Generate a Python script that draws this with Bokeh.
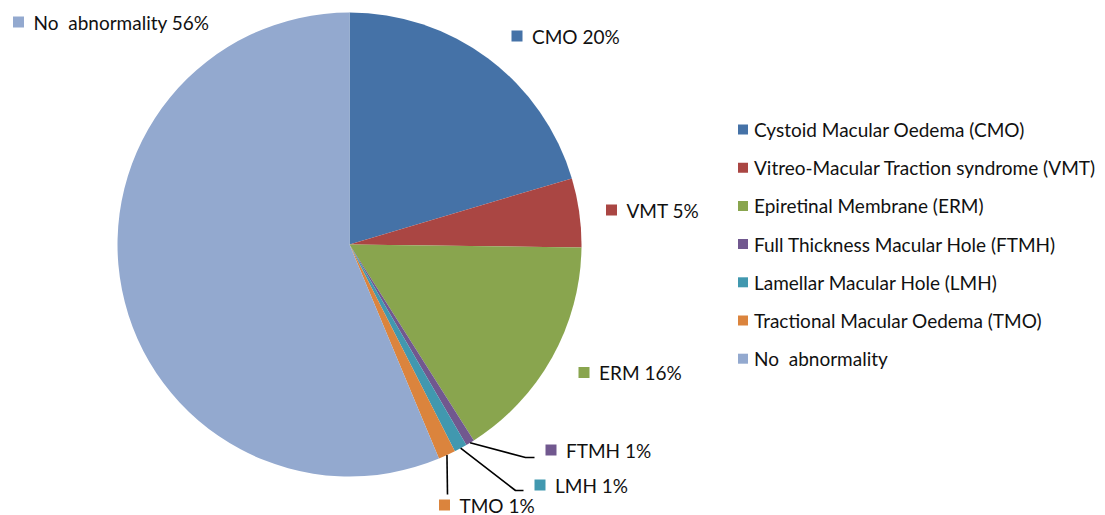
import math
from bokeh.plotting import figure
from bokeh.models import Range1d, ColumnDataSource
from bokeh.core.properties import value
from bokeh.embed import file_html
from bokeh.resources import INLINE

# ---- data ----
short_names = ["CMO", "VMT", "ERM", "FTMH", "LMH", "TMO", "No\u00a0 abnormality"]
legend_names = [
    "Cystoid Macular Oedema (CMO)",
    "Vitreo-Macular Traction syndrome (VMT)",
    "Epiretinal Membrane (ERM)",
    "Full Thickness Macular Hole (FTMH)",
    "Lamellar Macular Hole (LMH)",
    "Tractional Macular Oedema (TMO)",
    "No\u00a0 abnormality",
]
shares = [20.4, 4.8, 15.8, 0.6, 0.9, 1.2, 56.3]
label_pct = [20, 5, 16, 1, 1, 1, 56]
colors = ["#4572A7", "#AA4643", "#89A54E", "#71588F", "#4198AF", "#DB843D", "#93A9CF"]

# ---- layout (screen pixels) ----
W, H = 1105, 515
FONT = "Lato"
FS = "19px"
CX, CY, R = 349, 244, 232
# data-label marker centres (screen px)
lab_pos = [(516.5, 35.5), (611, 209.5), (583.5, 372), (550.5, 449.5),
           (539.5, 484.5), (444, 504.5), (18, 21.5)]
# leader-line bends / ends for tiny slices (screen px)
leaders = {3: [(525, 457), (534, 457)], 4: [(515, 490), (523, 490)], 5: [(447, 494)]}
leg_x, leg_y0, leg_dy = 742.5, 129, 38.2


def Y(s):
    return H - s


p = figure(width=W, height=H, x_range=Range1d(0, W), y_range=Range1d(0, H),
           output_backend="svg", toolbar_location=None, min_border=0)
p.axis.visible = False
p.grid.visible = False
p.outline_line_color = None
p.background_fill_color = "white"
p.border_fill_color = "white"

total = sum(shares)
starts, ends, mids = [], [], []
cum = 0.0
for s in shares:
    a0 = math.pi / 2 - 2 * math.pi * cum / total
    cum += s
    a1 = math.pi / 2 - 2 * math.pi * cum / total
    starts.append(a0)
    ends.append(a1)
    mids.append((a0 + a1) / 2)

src = ColumnDataSource(dict(x=[CX] * len(shares), y=[Y(CY)] * len(shares),
                            start=starts, end=ends, color=colors))
p.wedge(x="x", y="y", radius=R, start_angle="start", end_angle="end", direction="clock",
        fill_color="color", line_color=None, source=src)

# leader lines
xs, ys = [], []
for i, pts in leaders.items():
    ex = CX + R * math.cos(mids[i])
    ey = CY - R * math.sin(mids[i])
    xs.append([ex] + [q[0] for q in pts])
    ys.append([Y(ey)] + [Y(q[1]) for q in pts])
p.multi_line(xs=xs, ys=ys, line_color="black", line_width=1.6)

# data labels
p.scatter(x=[q[0] for q in lab_pos], y=[Y(q[1]) for q in lab_pos], marker="square",
          size=11, fill_color=colors, line_color=None)
p.text(x=[q[0] + 15 for q in lab_pos], y=[Y(q[1]) for q in lab_pos],
       text=[f"{n} {v}%" for n, v in zip(short_names, label_pct)],
       text_font=value(FONT), text_font_size=FS, text_color="#111111",
       text_baseline="middle", text_align="left")

# legend
ly = [Y(leg_y0 + i * leg_dy) for i in range(len(legend_names))]
p.scatter(x=[leg_x] * len(legend_names), y=ly, marker="square", size=10,
          fill_color=colors, line_color=None)
p.text(x=[leg_x + 11] * len(legend_names), y=ly, text=legend_names,
       text_font=value(FONT), text_font_size=FS, text_color="#111111",
       text_baseline="middle", text_align="left")

open("out.html", "w").write(file_html(p, INLINE))
